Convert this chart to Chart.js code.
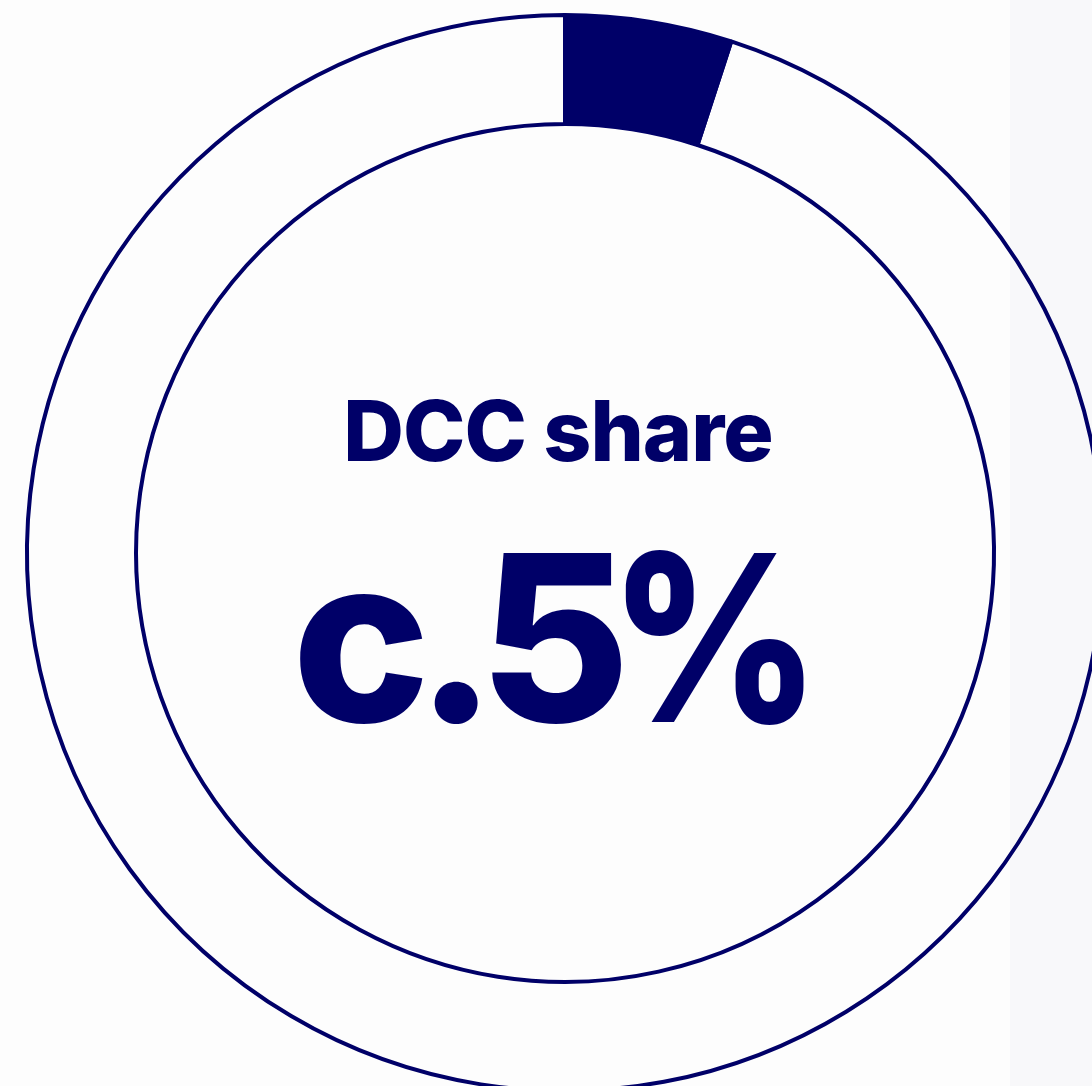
<!DOCTYPE html>
<html>
<head>
<meta charset="utf-8">
<script src="https://cdn.jsdelivr.net/npm/chart.js@4/dist/chart.umd.min.js"></script>
<style>
  html, body {
    margin: 0;
    padding: 0;
    width: 1092px;
    height: 1086px;
    overflow: hidden;
    background: linear-gradient(to right, #fdfdfd 0, #fdfdfd 1010px, #f8f8fa 1010px);
  }
  #wrap {
    position: absolute;
    left: 0;
    top: 0;
    width: 1130px;
    height: 1106px;
  }
  .label {
    position: absolute;
    width: 1130px;
    text-align: center;
    color: #000068;
    font-family: Inter, "Noto Sans", sans-serif;
    font-weight: 800;
    line-height: 1;
    white-space: nowrap;
  }
  #title { left: -7px; top: 389px; font-size: 84px; letter-spacing: -1px; }
  #value { left: -7px; top: 522px; font-size: 232px; letter-spacing: -24px; }
  #value span:nth-child(1) { letter-spacing: -15px; }
  #value span:nth-child(2) { letter-spacing: -18px; }
  #value span:nth-child(3) { letter-spacing: -21px; }
  #value span:nth-child(4) {
    display: inline-block;
    transform: scaleX(0.885);
    transform-origin: left center;
  }
</style>
</head>
<body>
<div id="wrap">
  <canvas id="shareChart" width="1130" height="1106"></canvas>
  <div class="label" id="title"></div>
  <div class="label" id="value"></div>
</div>
<script>
  const categories = ["DCC", "Other"];
  const shares = [5, 95];
  const centerTitle = "DCC share";

  const navy = "#000068";

  document.getElementById("title").textContent = centerTitle;

  // one span per glyph so the big figure can be kerned by hand
  const valueEl = document.getElementById("value");
  ("c." + shares[0] + "%").split("").forEach((ch) => {
    const s = document.createElement("span");
    s.textContent = ch;
    valueEl.appendChild(s);
  });

  const ctx = document.getElementById("shareChart").getContext("2d");

  new Chart(ctx, {
    type: "doughnut",
    data: {
      labels: categories,
      datasets: [
        {
          data: shares,
          backgroundColor: [navy, "rgba(0,0,0,0)"],
          borderColor: navy,
          borderWidth: 4,
        },
      ],
    },
    options: {
      responsive: false,
      animation: false,
      radius: 538,
      cutout: "79.74%",
      plugins: {
        legend: { display: false },
        tooltip: { enabled: false },
      },
    },
  });
</script>
</body>
</html>
